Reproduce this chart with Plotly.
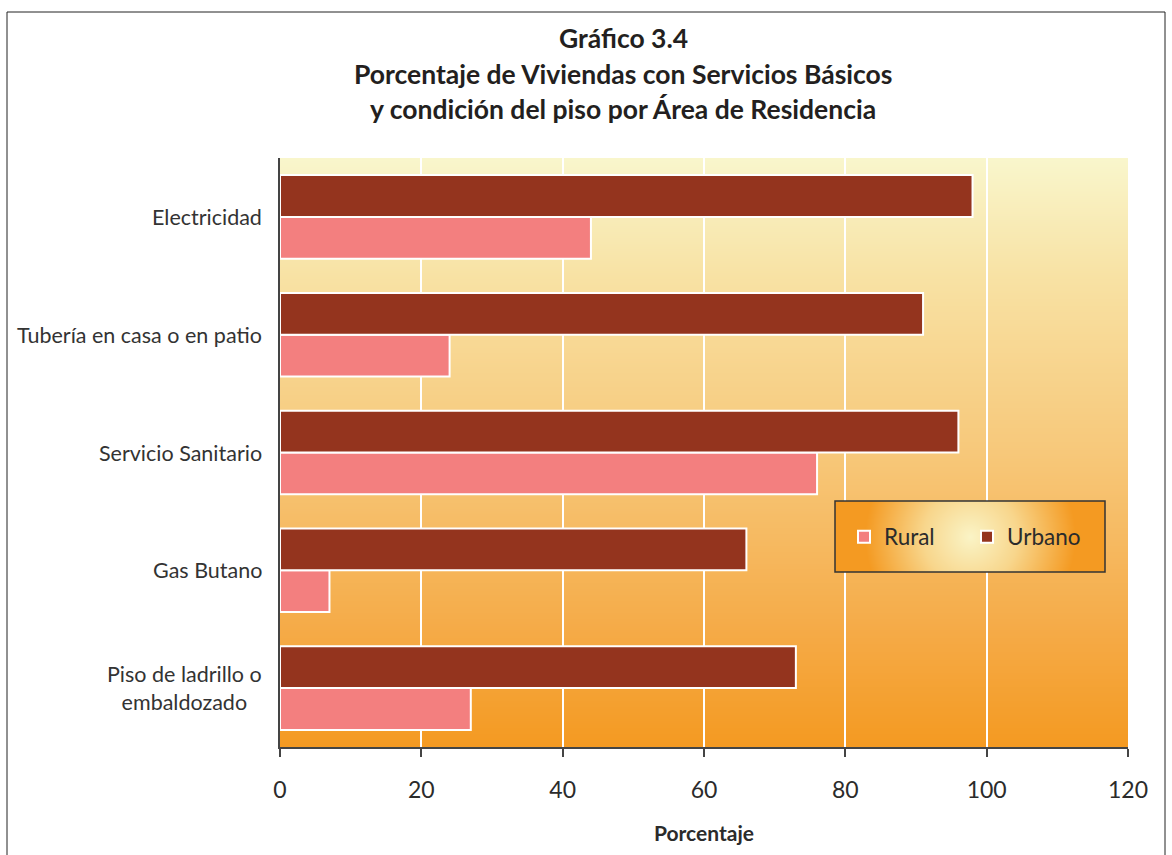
import zlib, struct, base64, math
import plotly.graph_objects as go

# ---------------- data ----------------
categories = ["Electricidad", "Tubería en casa o en patio", "Servicio Sanitario",
              "Gas Butano", "Piso de ladrillo o<br>embaldozado"]
rural = [44, 24, 76, 7, 27]
urbano = [98, 91, 96, 66, 73]
x_ticks = [0, 20, 40, 60, 80, 100, 120]
title_lines = ["Gráfico 3.4",
               "Porcentaje de Viviendas con Servicios Básicos",
               "y condición del piso por Área de Residencia"]

# ---------------- helpers for gradient images ----------------
def make_png(w, h, fn):
    raw = bytearray()
    for y in range(h):
        raw.append(0)
        for x in range(w):
            raw.extend(fn(x, y))
    def chunk(t, d):
        c = struct.pack('>I', len(d)) + t + d
        return c + struct.pack('>I', zlib.crc32(t + d) & 0xffffffff)
    png = (b'\x89PNG\r\n\x1a\n'
           + chunk(b'IHDR', struct.pack('>IIBBBBB', w, h, 8, 2, 0, 0, 0))
           + chunk(b'IDAT', zlib.compress(bytes(raw), 9))
           + chunk(b'IEND', b''))
    return 'data:image/png;base64,' + base64.b64encode(png).decode()

def interp(stops, t):
    for i in range(len(stops) - 1):
        t0, c0 = stops[i]
        t1, c1 = stops[i + 1]
        if t <= t1:
            f = (t - t0) / (t1 - t0) if t1 > t0 else 0
            return bytes(int(round(c0[k] + (c1[k] - c0[k]) * f)) for k in range(3))
    return bytes(stops[-1][1])

bg_stops = [(0.0, (249, 246, 204)), (0.2, (248, 226, 164)), (0.5, (247, 200, 122)),
            (0.8, (245, 171, 72)), (1.0, (244, 154, 34))]
BH = 300
bg_img = make_png(4, BH, lambda x, y: interp(bg_stops, y / (BH - 1)))

LW, LH = 270, 71
leg_stops = [(0.0, (250, 244, 198)), (0.45, (248, 214, 140)), (1.0, (244, 154, 34))]
def leg_fn(x, y):
    d = math.hypot(x - LW / 2, (y - LH / 2)) / 105.0
    return interp(leg_stops, min(d, 1.0))
leg_img = make_png(LW, LH, leg_fn)

# ---------------- geometry (px) ----------------
W, H = 1172, 855
L, R, T, B = 280, 44, 158, 108
PW, PH = W - L - R, H - T - B
def px(xp): return (xp - L) / PW
def py(yp): return (H - B - yp) / PH

font = "Lato, 'Open Sans', sans-serif"
txt = "#2b2b2b"

fig = go.Figure()
fig.add_trace(go.Bar(y=categories, x=rural, name="Rural", orientation="h",
                     marker=dict(color="#f37f7f", line=dict(color="white", width=2))))
fig.add_trace(go.Bar(y=categories, x=urbano, name="Urbano", orientation="h",
                     marker=dict(color="#94341e", line=dict(color="white", width=2))))

fig.update_layout(
    width=W, height=H,
    margin=dict(l=L, r=R, t=T, b=B),
    paper_bgcolor="white", plot_bgcolor="rgba(0,0,0,0)",
    barmode="group", bargap=0.29, bargroupgap=0,
    font=dict(family=font, color=txt),
    showlegend=True,
    legend=dict(orientation="h", x=px(844), y=py(537), xanchor="left", yanchor="middle",
                bgcolor="rgba(0,0,0,0)", borderwidth=0, entrywidth=78,
                font=dict(size=22.5, color=txt, family=font), traceorder="normal"),
    xaxis=dict(range=[0, 120], tickvals=x_ticks, ticktext=[str(v) for v in x_ticks],
               showgrid=True, gridcolor="white", gridwidth=2, zeroline=False,
               showline=True, linecolor="#444", linewidth=1.5,
               ticks="outside", ticklen=8, tickcolor="#444", tickwidth=1.5,
               ticklabelstandoff=14,
               tickfont=dict(size=23, color=txt, family=font),
               title=dict(text="<b>Porcentaje</b>", font=dict(size=21, color=txt, family=font),
                          standoff=24)),
    yaxis=dict(categoryorder="array", categoryarray=categories[::-1],
               showgrid=False, zeroline=False, showline=True, linecolor="#444", linewidth=1.5,
               ticks="", showticklabels=False),
    images=[
        dict(source=bg_img, xref="paper", yref="paper", x=0, y=1, sizex=1, sizey=1,
             xanchor="left", yanchor="top", sizing="stretch", layer="below"),
        dict(source=leg_img, xref="paper", yref="paper", x=px(835), y=py(501),
             sizex=px(1105) - px(835), sizey=py(501) - py(572),
             xanchor="left", yanchor="top", sizing="stretch", layer="above"),
    ],
    shapes=[
        dict(type="rect", xref="paper", yref="paper", x0=px(835), x1=px(1105),
             y0=py(572), y1=py(501), line=dict(color="#333", width=1.5), layer="above"),
        dict(type="rect", xref="paper", yref="paper", x0=px(7), x1=px(1165),
             y0=py(880), y1=py(12), line=dict(color="#222", width=1), layer="above"),
    ],
)

# category labels (centred multi-line, as in the original)
for c in categories:
    fig.add_annotation(text=c, xref="paper", yref="y", x=px(264), y=c,
                       xanchor="right", yanchor="middle", align="center",
                       showarrow=False, font=dict(size=21.5, color="#333", family=font))

line_y = [38, 74, 109]
for t, yy in zip(title_lines, line_y):
    fig.add_annotation(text="<b>" + t + "</b>", xref="paper", yref="paper",
                       x=px(623), y=py(yy), xanchor="center", yanchor="middle",
                       showarrow=False, font=dict(size=26.5, color="#231f20", family=font))

fig.write_html("out.html", config={"displayModeBar": False},
               post_script="document.body.style.margin='0px';document.body.style.overflow='hidden';")
